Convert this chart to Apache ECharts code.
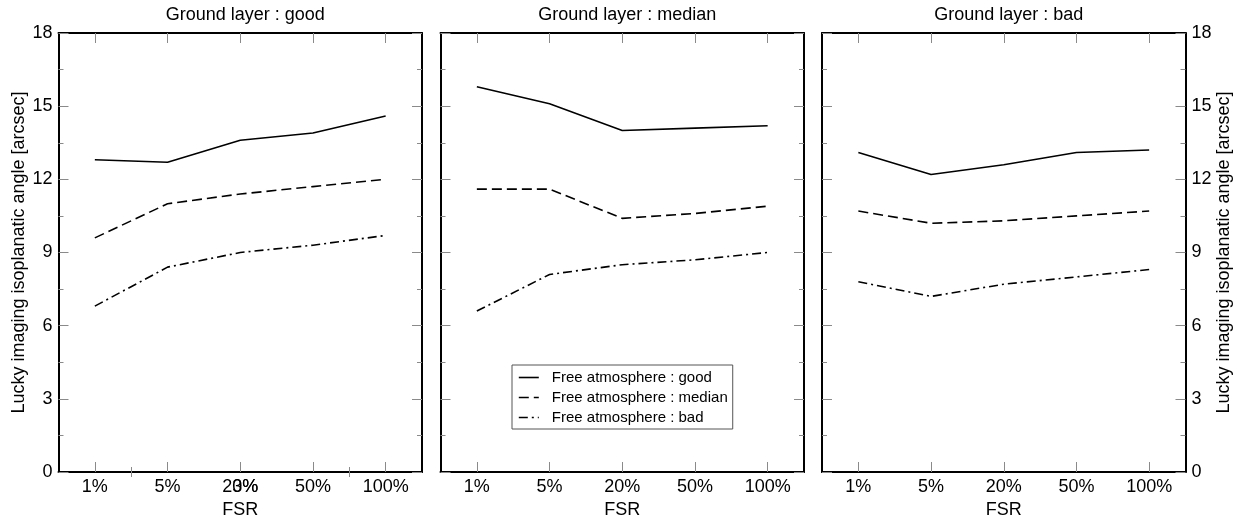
<!DOCTYPE html>
<html>
<head>
<meta charset="utf-8">
<script src="https://cdn.jsdelivr.net/npm/echarts@6/dist/echarts.min.js"></script>
<style>
    html, body { margin: 0; padding: 0; background: #fff; }
    #chart { width: 1240px; height: 515px; }
</style>
</head>
<body>
<div id="chart"></div>
<script>
const categories = ["1%", "5%", "20%", "50%", "100%"];
const panelTitles = ["Ground layer : good", "Ground layer : median", "Ground layer : bad"];
const seriesNames = ["Free atmosphere : good", "Free atmosphere : median", "Free atmosphere : bad"];

const groundGoodFaGood = [12.8, 12.7, 13.6, 13.9, 14.6];
const groundGoodFaMedian = [9.6, 11.0, 11.4, 11.7, 12.0];
const groundGoodFaBad = [6.8, 8.4, 9.0, 9.3, 9.7];

const groundMedianFaGood = [15.8, 15.1, 14.0, 14.1, 14.2];
const groundMedianFaMedian = [11.6, 11.6, 10.4, 10.6, 10.9];
const groundMedianFaBad = [6.6, 8.1, 8.5, 8.7, 9.0];

const groundBadFaGood = [13.1, 12.2, 12.6, 13.1, 13.2];
const groundBadFaMedian = [10.7, 10.2, 10.3, 10.5, 10.7];
const groundBadFaBad = [7.8, 7.2, 7.7, 8.0, 8.3];

// first panel has two stray x ticks and an overlapping "3%" label
const panel1ExtraTicks = [1.5, 4.5];
const panel1ExtraLabelAt = [3];
const panel1ExtraLabel = "3%";

const yMin = 0;
const yMax = 18;
const yStep = 3;

const panelData = [
    [groundGoodFaGood, groundGoodFaMedian, groundGoodFaBad],
    [groundMedianFaGood, groundMedianFaMedian, groundMedianFaBad],
    [groundBadFaGood, groundBadFaMedian, groundBadFaBad]
];

const font = "'Liberation Sans', Arial, sans-serif";
const panelLefts = [58.5, 440.5, 822];
const panelWidth = 363.5;
const panelTop = 33;
const panelHeight = 439;
const dashTypes = ["solid", [10, 5], [9, 4, 2, 4]];
const yName = "Lucky imaging isoplanatic angle [arcsec]";

const frameLine = { show: true, onZero: false, lineStyle: { color: "#000", width: 2 } };
const tickStyle = { color: "#8a8a8a", width: 1 };

const grids = [];
const xAxes = [];
const yAxes = [];
const series = [];
const titles = [];

panelLefts.forEach((left, p) => {
    grids.push({
        left,
        top: panelTop,
        width: panelWidth,
        height: panelHeight,
        containLabel: false,
        outerBoundsMode: "none"
    });

    titles.push({
        text: panelTitles[p],
        left: left + panelWidth / 2,
        top: 1,
        textAlign: "center",
        textStyle: { fontFamily: font, fontSize: 18, fontWeight: "normal", color: "#000" }
    });

    // bottom category axis
    xAxes.push({
        type: "category",
        gridIndex: p,
        position: "bottom",
        data: categories,
        boundaryGap: true,
        name: "FSR",
        nameLocation: "middle",
        nameGap: 20,
        nameTextStyle: { fontFamily: font, fontSize: 18, color: "#000" },
        axisLine: frameLine,
        axisTick: { show: true, inside: true, alignWithLabel: true, length: 10, lineStyle: tickStyle },
        axisLabel: { fontFamily: font, fontSize: 18, color: "#000", margin: 6 },
        splitLine: { show: false }
    });
    // top category axis (frame + ticks)
    xAxes.push({
        type: "category",
        gridIndex: p,
        position: "top",
        data: categories,
        boundaryGap: true,
        axisLine: frameLine,
        axisTick: { show: true, inside: true, alignWithLabel: true, length: 10, lineStyle: tickStyle },
        axisLabel: { show: false },
        splitLine: { show: false }
    });

    ["left", "right"].forEach(side => {
        const showLabels = (p === 0 && side === "left") || (p === 2 && side === "right");
        yAxes.push({
            type: "value",
            gridIndex: p,
            position: side,
            min: yMin,
            max: yMax,
            interval: yStep,
            name: showLabels ? yName : "",
            nameLocation: "middle",
            nameRotate: 90,
            nameGap: 30,
            nameTextStyle: { fontFamily: font, fontSize: 18, color: "#000" },
            axisLine: frameLine,
            axisTick: { show: true, inside: true, length: 10, lineStyle: tickStyle },
            minorTick: { show: true, splitNumber: 2, length: 5, lineStyle: tickStyle },
            axisLabel: { show: showLabels, fontFamily: font, fontSize: 18, color: "#000", margin: 6 },
            splitLine: { show: false }
        });
    });

    panelData[p].forEach((values, s) => {
        series.push({
            name: seriesNames[s],
            type: "line",
            xAxisIndex: p * 2,
            yAxisIndex: p * 2,
            data: values,
            symbol: "none",
            silent: true,
            lineStyle: { color: "#000", width: 1.6, type: dashTypes[s] },
            itemStyle: { color: "#000" }
        });
    });
});

// stray ticks / label of the first panel, on value axes that line up with the categories
["bottom", "top"].forEach(pos => {
    xAxes.push({
        type: "value",
        gridIndex: 0,
        position: pos,
        min: 0.5,
        max: 5.5,
        axisLine: { show: false },
        axisTick: { show: true, inside: true, length: 5, customValues: panel1ExtraTicks, lineStyle: tickStyle },
        axisLabel: {
            show: pos === "bottom",
            customValues: panel1ExtraLabelAt,
            formatter: () => panel1ExtraLabel,
            fontFamily: font,
            fontSize: 18,
            color: "#000",
            margin: 6,
            padding: [0, 0, 0, 10]
        },
        splitLine: { show: false }
    });
});

const chart = echarts.init(document.getElementById("chart"), null, { renderer: "canvas" });
chart.setOption({
    backgroundColor: "#fff",
    animation: false,
    title: titles,
    grid: grids,
    xAxis: xAxes,
    yAxis: yAxes,
    legend: {
        data: seriesNames,
        orient: "vertical",
        left: 512,
        top: 365,
        padding: [5, 5, 4, 6],
        itemWidth: 20,
        itemHeight: 14,
        itemGap: 5,
        borderColor: "#555",
        borderWidth: 1,
        backgroundColor: "#fff",
        selectedMode: false,
        itemStyle: { opacity: 0 },
        lineStyle: { opacity: 1, width: 1.6 },
        textStyle: { fontFamily: font, fontSize: 15, color: "#000", padding: [0, 0, 0, 8] }
    },
    series
});
</script>
</body>
</html>
